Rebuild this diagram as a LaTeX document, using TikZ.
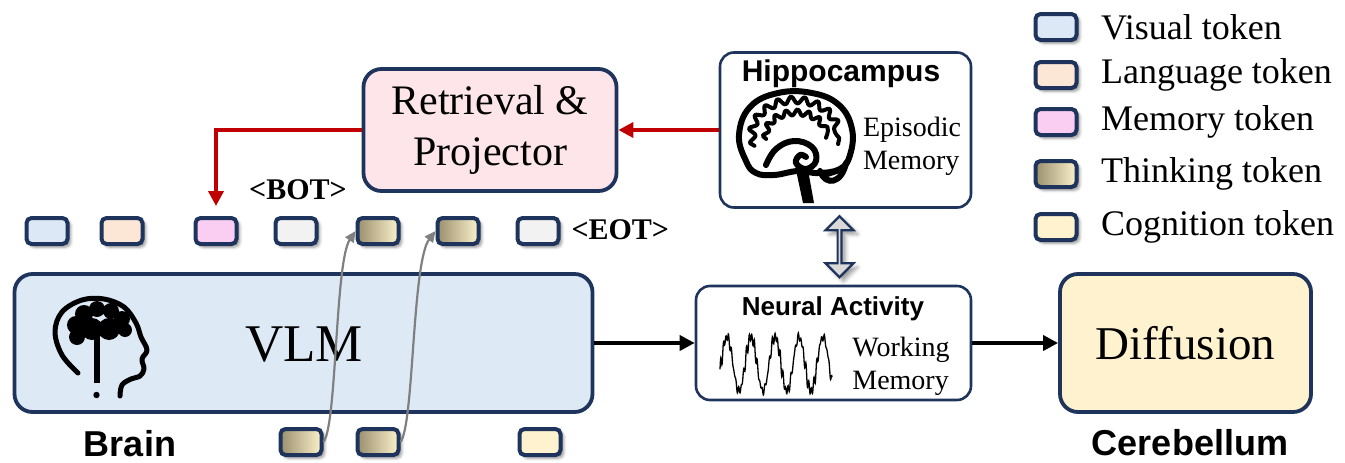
\documentclass[tikz,border=0pt]{standalone}
\usepackage{fontspec}
\setmainfont{Liberation Serif}
\setsansfont{Liberation Sans}
\usetikzlibrary{
  arrows.meta,
  positioning,
  calc,
  shapes.arrows,
  shadows.blur,
  decorations.pathmorphing
}
\definecolor{edgecolor}{RGB}{31, 52, 92}
\definecolor{vlmcolor}{RGB}{222, 233, 246}
\definecolor{retrievecolor}{RGB}{253, 229, 233}
\definecolor{diffcolor}{RGB}{255, 242, 206}
\definecolor{visualcolor}{RGB}{220, 232, 246}
\definecolor{langcolor}{RGB}{252, 231, 214}
\definecolor{memcolor}{RGB}{250, 206, 242}
\definecolor{thinkdark}{RGB}{155, 144, 110}
\definecolor{thinklight}{RGB}{251, 241, 202}
\definecolor{cogcolor}{RGB}{255, 242, 206}
\definecolor{specialcolor}{RGB}{242, 242, 242}
\definecolor{redline}{RGB}{192, 0, 0}
\definecolor{grayline}{RGB}{128, 128, 128}
\definecolor{linkfill}{RGB}{217, 217, 217}
\tikzset{
token/.style={
  draw=edgecolor,
  line width=4pt,
  rounded corners=5pt,
  minimum width=41pt,
  minimum height=26pt,
  inner sep=0pt,
  blur shadow={shadow xshift=3pt, shadow yshift=-3pt, shadow blur radius=3pt, shadow opacity=45}
},
visualtok/.style={token, fill=visualcolor},
langtok/.style={token, fill=langcolor},
memtok/.style={token, fill=memcolor},
thinktok/.style={token, left color=thinkdark, right color=thinklight},
cogtok/.style={token, fill=cogcolor},
specialtok/.style={token, fill=specialcolor},
block/.style={
  draw=edgecolor,
  line width=3.8pt,
  rounded corners=18pt,
  inner sep=0pt,
  align=center
},
memblock/.style={
  draw=edgecolor,
  line width=2.6pt,
  rounded corners=14pt,
  inner sep=0pt,
  fill=white
},
legendtext/.style={anchor=west, font=\fontsize{36}{40}\selectfont},
smalltext/.style={align=left, font=\fontsize{28}{33}\selectfont},
tagtext/.style={font=\fontsize{30}{34}\selectfont\bfseries},
arrow/.style={
  -{Triangle[length=15pt,width=15pt]},
  line width=3.6pt
},
redarrow/.style={arrow, draw=redline},
thinkarrow/.style={
  -{Triangle[length=11pt,width=10pt]},
  line width=2.2pt,
  draw=grayline
},
dblarrow/.style={
  double arrow,
  shape border rotate=90,
  draw=edgecolor,
  line width=2.2pt,
  fill=linkfill,
  minimum width=28pt,
  minimum height=61pt,
  double arrow head extend=7pt,
  double arrow head indent=0pt,
  inner sep=0pt,
  blur shadow={shadow xshift=4pt, shadow yshift=-4pt, shadow blur radius=4pt, shadow opacity=40}
}
}

\begin{document}
\begin{tikzpicture}[x=1pt, y=-1pt]
  \useasboundingbox (0,0) rectangle (1345,463);

  % Main blocks
  \node[block, fill=vlmcolor, minimum width=578pt, minimum height=138pt] (vlm) at (303.5,343) {};
  \node[block, fill=retrievecolor, minimum width=253pt, minimum height=122pt,
        font=\fontsize{42}{51}\selectfont] (retr) at (490,130) {Retrieval \&\\Projector};
  \node[memblock, minimum width=251pt, minimum height=155pt] (hippo) at (845.5,130) {};
  \node[memblock, minimum width=275pt, minimum height=114pt] (neural) at (833.5,343) {};
  \node[block, fill=diffcolor, minimum width=251pt, minimum height=138pt,
        font=\fontsize{47}{52}\selectfont] (diff) at (1185.5,343) {Diffusion};

  % Texts inside and under the blocks
  \node[font=\fontsize{53}{58}\selectfont] (vlmtext) at (304,345) {VLM};
  \node[font=\sffamily\bfseries\fontsize{30}{34}\selectfont] (hippotitle) at (841,74) {Hippocampus};
  \node[smalltext] (episodic) at (912,146) {Episodic\\Memory};
  \node[font=\sffamily\bfseries\fontsize{26}{30}\selectfont] (neuraltitle) at (833,309) {Neural Activity};
  \node[smalltext] (working) at (901,366) {Working\\Memory};
  \node[font=\sffamily\bfseries\fontsize{36}{40}\selectfont] (brainlabel) at (130,444) {Brain};
  \node[font=\sffamily\bfseries\fontsize{36}{40}\selectfont] (cereblabel) at (1190,443) {Cerebellum};

  % Token row above the VLM
  \node[visualtok] (v1) at (47,231) {};
  \node[langtok] (l1) at (122,231) {};
  \node[memtok] (m1) at (216,231) {};
  \node[specialtok] (bot) at (296,231) {};
  \node[thinktok] (t1) at (378,231) {};
  \node[thinktok] (t2) at (458,231) {};
  \node[specialtok] (eot) at (538,231) {};
  \node[tagtext] (bottag) at (298,190) {\textless BOT\textgreater};
  \node[tagtext, anchor=west] (eottag) at (568,230) {\textless EOT\textgreater};

  % Token row below the VLM
  \node[thinktok] (tb1) at (301,442) {};
  \node[thinktok] (tb2) at (378,442) {};
  \node[cogtok] (cog) at (540,442) {};

  % Legend
  \node[visualtok] (leg1) at (1056,27) {};
  \node[langtok] (leg2) at (1056,75) {};
  \node[memtok] (leg3) at (1056,122) {};
  \node[thinktok] (leg4) at (1056,174) {};
  \node[cogtok] (leg5) at (1056,227) {};
  \foreach \i/\txt in {1/Visual token, 2/Language token, 3/Memory token, 4/Thinking token, 5/Cognition token}
    \node[legendtext] (legtext\i) at ($(leg\i.east)+(19,0)$) {\txt};

  % Connectors
  \draw[redarrow] (hippo.west) -- (retr.east);
  \draw[redarrow, shorten >=10pt] (retr.west) -| (m1.north);
  \draw[arrow] (vlm.east) -- (neural.west);
  \draw[arrow] (neural.east) -- (diff.west);
  \node[dblarrow] (link) at ($(hippo.south)!0.5!(neural.north)$) {};
  \draw[thinkarrow] (tb1.east) .. controls (337,425) and (335,262) .. (t1.west);
  \draw[thinkarrow] (tb2.east) .. controls (414,425) and (412,262) .. (t2.west);

  % Head icon in the VLM block
  \begin{scope}[shift={(104,345)}, line width=5pt, line cap=round, line join=round]
    \draw plot[smooth, tension=0.6] coordinates {(-26,28) (-42,10) (-49,-13) (-42,-33) (-22,-45) (0,-46) (20,-38) (32,-22) (37,-8) (43,5) (38,14) (40,24) (36,31) (27,34) (18,40) (16,51)};
    \fill (-28,-20) circle (9) (-20,-31) circle (9) (-7,-36) circle (8) (7,-34) circle (8)
          (18,-26) circle (8) (21,-15) circle (7) (-27,-8) circle (8) (-12,-16) circle (11) (5,-16) circle (11);
    \fill (-10,-10) rectangle (-4.5,38);
    \fill (-7.5,50) circle (3.2);
  \end{scope}

  % Brain drawing in the hippocampus block
  \begin{scope}[shift={(796,143)}, line width=6pt, line cap=round, line join=round]
    \draw plot[smooth cycle, tension=0.7] coordinates {(-50,18) (-57,-8) (-46,-36) (-18,-50) (16,-50) (43,-38) (56,-14) (54,12) (44,26) (22,30) (2,28) (-22,32) (-40,30)};
    \draw[line width=4pt, decorate, decoration={snake, amplitude=3.5pt, segment length=13pt}]
      (0,-6) ++(165:43 and 34) arc[start angle=165, end angle=372, x radius=43, y radius=34];
    \draw[line width=4pt, decorate, decoration={snake, amplitude=3pt, segment length=11pt}]
      (0,-6) ++(175:30 and 22) arc[start angle=175, end angle=362, x radius=30, y radius=22];
    \draw plot[smooth, tension=0.7] coordinates {(-30,22) (-20,6) (-2,-2) (16,4) (20,18) (10,26) (0,20) (4,12) (10,14)};
    \fill (0,27) -- (12,27) -- (18,60) -- (7,60) -- cycle;
    \draw (24,28) .. controls (30,44) and (46,40) .. (50,20);
    \draw[line width=2.4pt] (28,34) -- (46,28) (32,39) -- (44,35);
  \end{scope}

  % Noisy trace in the neural activity block
  \draw[line width=1.3pt] plot[domain=0:112, samples=420]
    (720+\x, {364 - 27*sin(15*\x - 15) - 3.5*sin(139*\x) - 2.5*sin(97*\x + 40) - 2*sin(127*\x)});
\end{tikzpicture}
\end{document}
